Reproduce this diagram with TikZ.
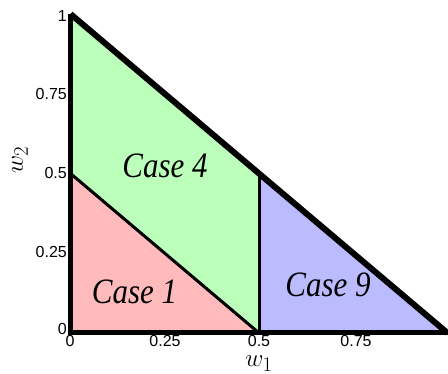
\documentclass[tikz,border=0pt]{standalone}
\usepackage{fontspec}
\setmainfont{Liberation Sans}
\newfontfamily\casefont{Liberation Serif}
\definecolor{pinkfill}{HTML}{FFBBBB}
\definecolor{greenfill}{HTML}{BBFFBB}
\definecolor{bluefill}{HTML}{BBBBFF}
\begin{document}
\begin{tikzpicture}[x=1pt,y=-1pt,
  tick/.style={font=\fontsize{16}{18}\selectfont, inner sep=0pt},
  caselabel/.style={font=\casefont\itshape\fontsize{31}{34}\selectfont, inner sep=0pt, yscale=1.15},
  axlabel/.style={font=\fontsize{28}{30}\selectfont, inner sep=0pt},
  outer/.style={line width=5pt, line join=miter},
  inner/.style={line width=3pt}]
\useasboundingbox (0,0) rectangle (448,374);
\coordinate (O) at (70.5,333);
\coordinate (T) at (70.5,14);
\coordinate (R) at (447.5,333);
\coordinate (M) at (70.5,173.5);
\coordinate (B) at (259,333);
\coordinate (H) at (259,173.5);
\fill[pinkfill] (O) -- (M) -- (B) -- cycle;
\fill[greenfill] (M) -- (T) -- (H) -- (B) -- cycle;
\fill[bluefill] (H) -- (R) -- (B) -- cycle;
\draw[inner] (M) -- (B);
\draw[inner] (H) -- (B);
\draw[outer] (T) -- (O) -- (R);
\draw[line width=6pt] (T) -- (R);
% y ticks
\node[tick, anchor=east] (y1) at (67,16) {1};
\node[tick, anchor=east] (y75) at (67,94) {0.75};
\node[tick, anchor=east] (y5) at (67,173) {0.5};
\node[tick, anchor=east] (y25) at (67,252) {0.25};
\node[tick, anchor=east] (y0) at (67,329) {0};
% x ticks
\node[tick, anchor=north] (x0) at (70,335.5) {0};
\node[tick, anchor=north] (x25) at (165,335.5) {0.25};
\node[tick, anchor=north] (x5) at (259,335.5) {0.5};
\node[tick, anchor=north] (x75) at (356,335.5) {0.75};
% axis labels
\node[axlabel, anchor=base] (w1) at (259,366.5) {$w_1$};
\node[axlabel, rotate=90] (w2) at (20,160) {$w_2$};
% case labels
\node[caselabel, anchor=base] (c4) at (165,178) {Case 4};
\node[caselabel, anchor=base] (c1) at (134.5,304) {Case 1};
\node[caselabel, anchor=base] (c9) at (328,297) {Case 9};
\end{tikzpicture}
\end{document}
